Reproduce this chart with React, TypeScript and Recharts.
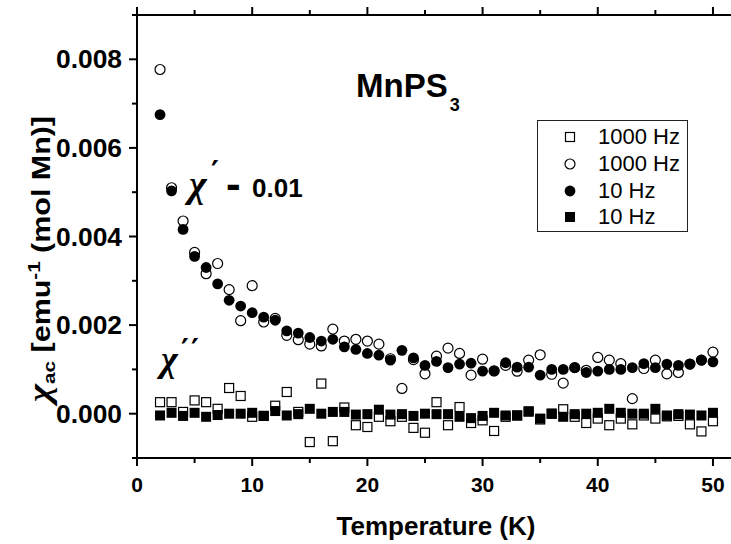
import React from 'react';
import { ScatterChart, Scatter, XAxis, YAxis, Legend } from 'recharts';

// temperature (K) of every measurement
const temps = [
  2, 3, 4, 5, 6, 7, 8, 9, 10, 11, 12, 13, 14, 15, 16, 17, 18, 19, 20, 21, 22, 23, 24, 25, 26,
  27, 28, 29, 30, 31, 32, 33, 34, 35, 36, 37, 38, 39, 40, 41, 42, 43, 44, 45, 46, 47, 48, 49, 50,
];

// chi' - 0.01, 1000 Hz (open circles)
const chiReal1000 = [
  0.00777, 0.0051, 0.00435, 0.00364, 0.00316, 0.00339, 0.0028, 0.0021, 0.00289, 0.00207, 0.00215,
  0.00177, 0.00167, 0.00157, 0.00153, 0.00191, 0.00164, 0.00168, 0.00164, 0.00157, 0.00124, 0.00057,
  0.00122, 0.0009, 0.0013, 0.00148, 0.00136, 0.00087, 0.00123, 0.00097, 0.00109, 0.00096, 0.00121,
  0.00133, 0.00089, 0.00069, 0.00104, 0.00098, 0.00127, 0.00121, 0.00113, 0.00034, 0.00102, 0.00121,
  0.0009, 0.00093, 0.00112, 0.00121, 0.00139,
];

// chi' - 0.01, 10 Hz (filled circles)
const chiReal10 = [
  0.00675, 0.00503, 0.00416, 0.00355, 0.0033, 0.00293, 0.00256, 0.00243, 0.00228, 0.00218, 0.00211,
  0.00187, 0.00182, 0.00172, 0.00164, 0.00168, 0.00151, 0.00145, 0.00136, 0.00132, 0.00121, 0.00143,
  0.00126, 0.00109, 0.00118, 0.00104, 0.00112, 0.00114, 0.00096, 0.00096, 0.00115, 0.00105, 0.00105,
  0.00087, 0.001, 0.001, 0.00104, 0.00093, 0.00096, 0.001, 0.001, 0.00104, 0.00113, 0.00104, 0.00112,
  0.00109, 0.00112, 0.00121, 0.00117,
];

// chi'', 1000 Hz (open squares)
const chiImag1000 = [
  0.00026, 0.00026, 0.00004, 0.0003, 0.00026, 0.00011, 0.00058, 0.0004, -0.00007, -0.00005, 0.00018,
  0.00049, 0.00004, -0.00064, 0.00068, -0.00062, 0.00014, -0.00026, -0.0003, -0.00007, -0.00017,
  -0.00007, -0.00032, -0.00043, 0.00026, -0.00026, 0.00015, -0.00021, -0.00015, -0.00039, -0.00007,
  -0.00004, 0.00005, -0.00013, 0.0, 0.0001, -0.00007, -0.00021, -0.00011, -0.00026, -0.00011,
  -0.00024, -0.00004, -0.00011, -0.00006, -0.00005, -0.00024, -0.0004, -0.00017,
];

// chi'', 10 Hz (filled squares)
const chiImag10 = [
  -0.00004, 0.00002, -0.00005, 0.00002, -0.00007, -0.00003, 0.0, 0.0, 0.00002, -0.00005, 0.00006,
  -0.00004, -0.00001, 0.00011, 0.0, 0.00004, 0.00004, -0.00002, -0.00001, 0.00009, -0.00002, -0.00001,
  -0.00005, 0.0, -0.00001, -0.00001, -0.00007, -0.0001, -0.00005, 0.00002, -0.00004, -0.00004,
  0.00005, -0.00011, 0.0, -0.00007, -0.00001, 0.0, 0.00002, 0.00011, 0.00002, 0.0, 0.0, 0.00011,
  -0.00004, -0.00001, -0.00002, -0.00004, 0.00002,
];

const xTicks = [0, 5, 10, 15, 20, 25, 30, 35, 40, 45, 50];
const yTicks = [-0.001, 0, 0.001, 0.002, 0.003, 0.004, 0.005, 0.006, 0.007, 0.008, 0.009];
const legendNames = ['1000 Hz', '1000 Hz', '10 Hz', '10 Hz'];

const toPoints = (values: number[]) => temps.map((t, i) => ({ t, v: values[i] }));

const FONT = 'Liberation Sans, Arial, sans-serif';
const SERIF = 'Liberation Serif, Times New Roman, serif';

const OpenSquare = (p: any) => (
  <rect x={p.cx - 4.5} y={p.cy - 4.5} width={9} height={9} fill="#fff" stroke="#000" strokeWidth={1.2} />
);
const FilledSquare = (p: any) => (
  <rect x={p.cx - 5} y={p.cy - 5} width={10} height={10} fill="#000" />
);
const OpenCircle = (p: any) => (
  <circle cx={p.cx} cy={p.cy} r={5} fill="#fff" stroke="#000" strokeWidth={1.2} />
);
const FilledCircle = (p: any) => <circle cx={p.cx} cy={p.cy} r={5.4} fill="#000" />;

const legendShapes = [OpenSquare, OpenCircle, FilledCircle, FilledSquare];

const BottomTick = ({ x, y, payload }: any) => {
  const major = payload.value % 10 === 0;
  return (
    <g>
      <line x1={x} x2={x} y1={y} y2={y + (major ? 8 : 5)} stroke="#000" strokeWidth={2} />
      {major && (
        <text x={x} y={y + 34} textAnchor="middle" fontSize={21} fontWeight="bold" fontFamily={FONT}>
          {payload.value}
        </text>
      )}
    </g>
  );
};

const TopTick = ({ x, y, payload }: any) => {
  const major = payload.value % 10 === 0;
  return <line x1={x} x2={x} y1={y} y2={y - (major ? 8 : 5)} stroke="#000" strokeWidth={2} />;
};

const LeftTick = ({ x, y, payload }: any) => {
  const k = Math.round(payload.value * 10000);
  const major = k % 20 === 0 && k >= 0;
  return (
    <g>
      <line x1={x} x2={x - (major ? 8 : 5)} y1={y} y2={y} stroke="#000" strokeWidth={2} />
      {major && (
        <text
          x={x - 15}
          y={y + 9}
          textAnchor="end"
          fontSize={25}
          fontWeight="bold"
          fontFamily={FONT}
          textLength={66}
          lengthAdjust="spacingAndGlyphs"
        >
          {payload.value.toFixed(3)}
        </text>
      )}
    </g>
  );
};

const renderLegend = () => (
  <div
    style={{
      width: 151,
      height: 112,
      boxSizing: 'border-box',
      border: '1.5px solid #222',
      background: '#fff',
      paddingTop: 3,
    }}
  >
    {legendNames.map((name, i) => {
      const Shape = legendShapes[i];
      return (
        <div key={i} style={{ display: 'flex', alignItems: 'center', height: 26.7 }}>
          <svg width={60} height={26} style={{ flex: 'none' }}>
            <Shape cx={32} cy={13} />
          </svg>
          <span style={{ fontFamily: FONT, fontSize: 22, lineHeight: '26px', color: '#000' }}>{name}</span>
        </div>
      );
    })}
  </div>
);

export default function App() {
  return (
    <div style={{ position: 'absolute', left: 0, top: 0, width: 731, height: 544, overflow: 'hidden', background: '#fff' }}>
      <ScatterChart width={760} height={544} margin={{ top: 5, right: 24, bottom: 56, left: 77 }}>
        <XAxis
          xAxisId="bottom"
          type="number"
          dataKey="t"
          domain={[0, 52]}
          ticks={xTicks}
          allowDataOverflow
          height={30}
          tickSize={0}
          tickMargin={0}
          tickLine={false}
          axisLine={{ stroke: '#000', strokeWidth: 2 }}
          tick={<BottomTick />}
        />
        <XAxis
          xAxisId="top"
          orientation="top"
          type="number"
          dataKey="t"
          domain={[0, 52]}
          ticks={xTicks}
          allowDataOverflow
          height={10}
          tickSize={0}
          tickMargin={0}
          tickLine={false}
          axisLine={{ stroke: '#000', strokeWidth: 2 }}
          tick={<TopTick />}
        />
        <YAxis
          type="number"
          dataKey="v"
          domain={[-0.001, 0.009]}
          ticks={yTicks}
          allowDataOverflow
          width={60}
          tickSize={0}
          tickMargin={0}
          tickLine={false}
          axisLine={{ stroke: '#000', strokeWidth: 2 }}
          tick={<LeftTick />}
        />
        <Legend
          layout="vertical"
          align="center"
          verticalAlign="middle"
          content={renderLegend}
          wrapperStyle={{ position: 'absolute', left: 537, top: 120, width: 151, height: 112 }}
        />
        <Scatter xAxisId="bottom" name="1000 Hz" data={toPoints(chiImag1000)} shape={OpenSquare} isAnimationActive={false} />
        <Scatter xAxisId="bottom" name="1000 Hz" data={toPoints(chiReal1000)} shape={OpenCircle} isAnimationActive={false} />
        <Scatter xAxisId="bottom" name="10 Hz" data={toPoints(chiReal10)} shape={FilledCircle} isAnimationActive={false} />
        <Scatter xAxisId="bottom" name="10 Hz" data={toPoints(chiImag10)} shape={FilledSquare} isAnimationActive={false} />
      </ScatterChart>

      <svg
        width={731}
        height={544}
        style={{ position: 'absolute', left: 0, top: 0, pointerEvents: 'none' }}
      >
        <text x={356} y={97} fontSize={33} fontWeight="bold" fontFamily={FONT}>
          MnPS
          <tspan dx={2} dy={14} fontSize={18}>3</tspan>
        </text>

        <text x={189} y={197} fontSize={38} fontStyle="italic" fontWeight="bold" fontFamily={SERIF}>χ</text>
        <text x={211} y={182} fontSize={30} fontWeight="bold" fontFamily="DejaVu Sans, sans-serif">′</text>
        <text x={226} y={199} fontSize={44} fontWeight="bold" fontFamily={FONT}>-</text>
        <text x={252} y={197} fontSize={26} fontWeight="bold" fontFamily={FONT}>0.01</text>

        <text x={161} y={371} fontSize={36} fontStyle="italic" fontWeight="bold" fontFamily={SERIF}>χ</text>
        <text x={181} y={360} fontSize={30} fontWeight="bold" fontFamily="DejaVu Sans, sans-serif" letterSpacing={2}>′′</text>

        <text x={436} y={535} textAnchor="middle" fontSize={26} fontWeight="bold" fontFamily={FONT}>
          Temperature (K)
        </text>

        <text
          x={50}
          y={259}
          transform="rotate(-90 50 259)"
          textAnchor="middle"
          fontSize={25}
          fontWeight="bold"
          fontFamily={FONT}
          textLength={286}
          lengthAdjust="spacingAndGlyphs"
        >
          <tspan fontFamily={SERIF} fontStyle="italic" fontSize={32}>χ</tspan>
          <tspan fontSize={17} dy={5}>ac</tspan>
          <tspan dy={-5}> [emu</tspan>
          <tspan fontSize={17} dy={-10}>-1</tspan>
          <tspan dy={10}> (mol Mn)]</tspan>
        </text>
      </svg>
    </div>
  );
}
